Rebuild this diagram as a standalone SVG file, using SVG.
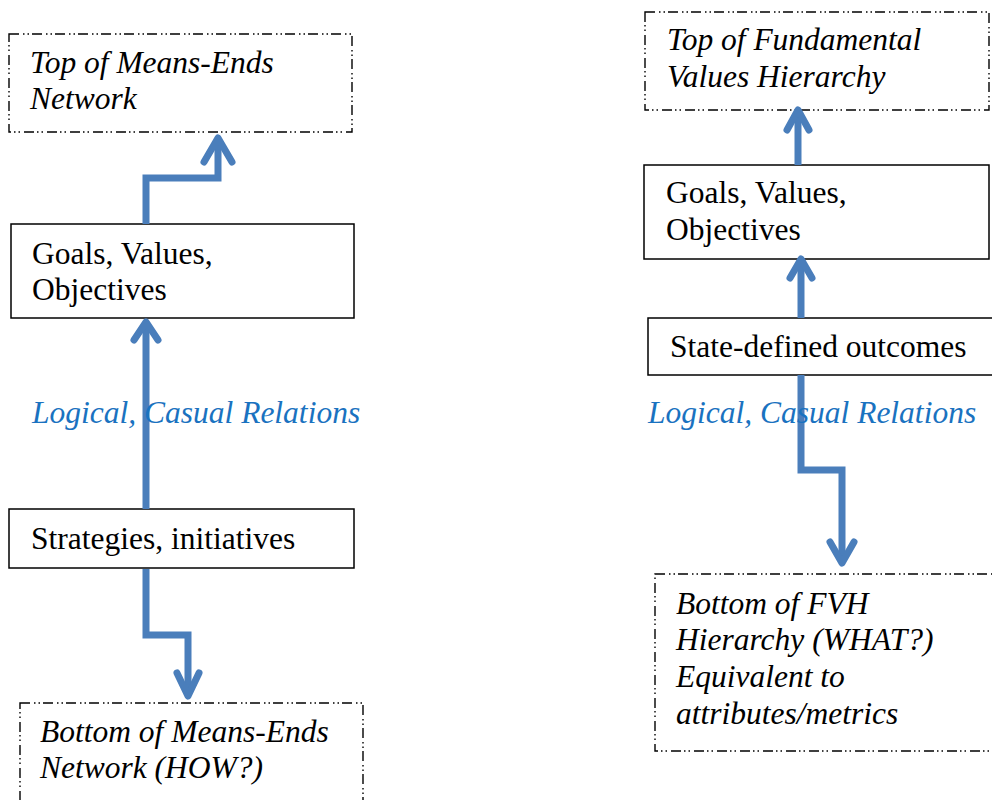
<svg xmlns="http://www.w3.org/2000/svg" width="992" height="800" viewBox="0 0 992 800">
  <style>
    .box { fill: #ffffff; stroke: #000000; stroke-width: 1.5; }
    .dbox { fill: none; stroke: #000000; stroke-width: 1.4; stroke-dasharray: 10 4 1.5 3 1.5 3; }
    text { font-family: 'Liberation Serif', 'DejaVu Serif', serif; font-size: 31.5px; fill: #000000; }
    .ti { font-style: italic; }
    .lbl { font-style: italic; fill: #1a72c0; }
    .conn { fill: none; stroke: #4a7ebb; stroke-width: 7; stroke-linejoin: miter; }
    .head { fill: none; stroke: #4a7ebb; stroke-width: 7; stroke-linecap: round; stroke-linejoin: round; }
  </style>

  <!-- Left column: means-ends network -->
  <g id="top-means-ends">
    <rect class="dbox" x="9" y="34" width="343" height="98"/>
    <text class="ti" x="30" y="73">Top of Means-Ends</text>
    <text class="ti" x="30" y="109">Network</text>
  </g>
  <g id="goals-left">
    <rect class="box" x="11" y="224" width="343" height="94"/>
    <text x="32" y="264">Goals, Values,</text>
    <text x="32" y="300">Objectives</text>
  </g>
  <g id="strategies">
    <rect class="box" x="9" y="509" width="345" height="59"/>
    <text x="31" y="549">Strategies, initiatives</text>
  </g>
  <g id="bottom-means-ends">
    <rect class="dbox" x="20" y="703" width="343" height="120"/>
    <text class="ti" x="40" y="742">Bottom of Means-Ends</text>
    <text class="ti" x="40" y="778">Network (HOW?)</text>
  </g>

  <!-- Right column: fundamental values hierarchy -->
  <g id="top-fvh">
    <rect class="dbox" x="645" y="12" width="344" height="98"/>
    <text class="ti" x="667" y="50">Top of Fundamental</text>
    <text class="ti" x="667" y="87">Values Hierarchy</text>
  </g>
  <g id="goals-right">
    <rect class="box" x="644" y="165" width="345" height="94"/>
    <text x="666" y="203">Goals, Values,</text>
    <text x="666" y="240">Objectives</text>
  </g>
  <g id="state-outcomes">
    <rect class="box" x="648" y="318" width="346" height="57"/>
    <text x="670" y="357">State-defined outcomes</text>
  </g>
  <g id="bottom-fvh">
    <rect class="dbox" x="655" y="574" width="350" height="177"/>
    <text class="ti" x="676" y="614">Bottom of FVH</text>
    <text class="ti" x="676" y="650">Hierarchy (WHAT?)</text>
    <text class="ti" x="676" y="687">Equivalent to</text>
    <text class="ti" x="676" y="724">attributes/metrics</text>
  </g>

  <!-- Connectors -->
  <g id="connectors">
    <!-- left: goals up to top of network -->
    <path class="conn" d="M146 224 V178 H218 V138"/>
    <path class="head" d="M204 162 L218 138 L232 162"/>
    <!-- left: strategies up to goals -->
    <path class="conn" d="M146 509 V324"/>
    <path class="head" d="M134 340 L146 322 L158 340"/>
    <!-- left: strategies down to bottom of network -->
    <path class="conn" d="M146 569 V635 H188 V694"/>
    <path class="head" d="M177 673 L188 696 L199 673"/>
    <!-- right: goals up to top of hierarchy -->
    <path class="conn" d="M798 165 V112"/>
    <path class="head" d="M787 130 L798 110 L809 130"/>
    <!-- right: outcomes up to goals -->
    <path class="conn" d="M801 318 V262"/>
    <path class="head" d="M790 278 L801 259 L812 278"/>
    <!-- right: outcomes down to bottom of hierarchy -->
    <path class="conn" d="M801 375 V470 H842 V560"/>
    <path class="head" d="M830 542 L842 563 L854 542"/>
  </g>

  <!-- Relation labels -->
  <text class="lbl" x="32" y="423">Logical, Casual Relations</text>
  <text class="lbl" x="648" y="423">Logical, Casual Relations</text>
</svg>
